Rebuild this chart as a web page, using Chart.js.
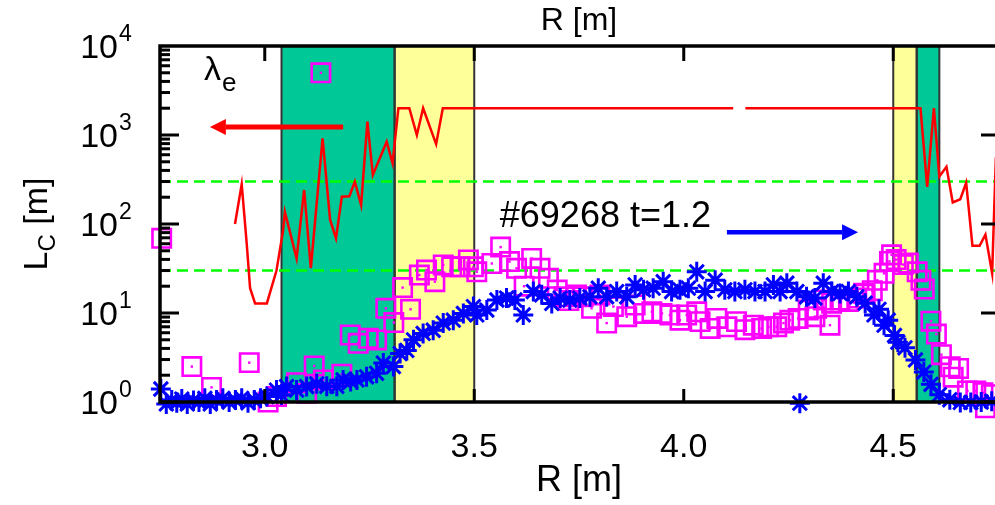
<!DOCTYPE html>
<html>
<head>
<meta charset="utf-8">
<script src="https://cdn.jsdelivr.net/npm/chart.js@4.4.0/dist/chart.umd.min.js"></script>
<style>
  html, body { margin: 0; padding: 0; overflow: hidden; background: #fff; }
  #wrap { width: 995px; height: 505px; overflow: hidden; position: relative; }
  #lc { position: absolute; left: 0; top: 0; }
</style>
</head>
<body>
<div id="wrap"><canvas id="lc" width="1005" height="505"></canvas></div>
<script>
// lambda_e (red line), null = gap in the line
const redR  = [2.929, 2.945, 2.957, 2.965, 2.977, 3.005, 3.028, 3.044, 3.048, 3.062, 3.076, 3.094, 3.11, 3.138, 3.156, 3.17,
               3.184, 3.202, 3.215, 3.23, 3.245, 3.258, 3.291, 3.305, 3.319, 3.345, 3.363, 3.378, 3.409, 3.425, 3.6, 3.8,
               4.0, 4.118, 4.13, 4.147, 4.3, 4.5, 4.565, 4.581, 4.597, 4.61, 4.627, 4.642, 4.66, 4.674, 4.689, 4.706,
               4.72, 4.736, 4.745];
const redLc = [100, 280, 60, 19, 12.8, 12.8, 30, 86, 137, 75, 41, 241, 32, 918, 111, 69,
               203, 205, 299, 163, 1413, 355, 841, 481, 2000, 2000, 1000, 2000, 790, 2000, 2000, 2000,
               2000, 2000, null, 2000, 2000, 2000, 2000, 261, 2000, 342, 440, 175, 190, 291, 57, 57,
               76, 28, 560];

// L_C squares (magenta)
const sqR  = [2.754, 2.826, 2.873, 2.963, 3.008, 3.028, 3.076, 3.1, 3.118, 3.134, 3.14, 3.184, 3.204, 3.223, 3.247, 3.267,
              3.289, 3.308, 3.329, 3.348, 3.369, 3.386, 3.406, 3.426, 3.446, 3.466, 3.486, 3.498, 3.506, 3.542, 3.563, 3.584,
              3.601, 3.619, 3.637, 3.657, 3.677, 3.698, 3.714, 3.726, 3.744, 3.76, 3.78, 3.8, 3.816, 3.832, 3.864, 3.884,
              3.904, 3.924, 3.948, 3.967, 3.991, 4.007, 4.031, 4.039, 4.063, 4.079, 4.103, 4.126, 4.146, 4.166, 4.186, 4.202,
              4.222, 4.238, 4.253, 4.273, 4.297, 4.313, 4.317, 4.333, 4.349, 4.353, 4.373, 4.393, 4.413, 4.429, 4.433, 4.45,
              4.462, 4.478, 4.491, 4.496, 4.507, 4.524, 4.536, 4.557, 4.566, 4.574, 4.59, 4.603, 4.615, 4.636, 4.643, 4.656,
              4.677, 4.697, 4.714, 4.72, 4.734];
const sqLc = [69, 2.5, 1.46, 2.77, 1.0, 1.15, 1.65, 1.25, 2.54, 5000, 1.77, 2.05, 5.66, 4.57, 5.2, 4.98,
              11.3, 7.8, 19.3, 11, 26.7, 30.4, 22.5, 34.7, 33, 33, 39.5, 33, 29, 36, 55, 37.8,
              31.8, 20, 41, 31.8, 24.5, 18.1, 15.2, 13.8, 15.9, 15.2, 11.3, 15.9, 7.7, 11.8, 9.1, 12.3,
              9.9, 10.3, 9.9, 9.5, 8.3, 9.5, 10.3, 8, 6.7, 8.7, 7.0, 8, 6.5, 7.3, 6.7, 7.0,
              7.0, 7.7, 8.3, 8.7, 10.8, 9.1, 11.3, 14, 7.3, 12.9, 14, 13.5, 14.7, 16.7, 16.3, 17.8,
              23.3, 27.9, 38, 45, 39.8, 35, 36.4, 29, 23.3, 18.6, 8.1, 5.8, 3.4, 2.49, 1.9, 2.38,
              1.33, 1.33, 1.27, 0.86, 1.21];

// L_C stars (blue)
const starR  = [2.752, 2.765, 2.778, 2.79, 2.802, 2.815, 2.83, 2.843, 2.857, 2.87, 2.885, 2.9, 2.915, 2.93, 2.945, 2.96,
                2.975, 2.99, 3.005, 3.028, 3.04, 3.052, 3.076, 3.1, 3.124, 3.148, 3.172, 3.187, 3.205, 3.22, 3.243, 3.267,
                3.283, 3.307, 3.323, 3.339, 3.355, 3.378, 3.402, 3.426, 3.45, 3.474, 3.498, 3.506, 3.53, 3.554, 3.577, 3.597,
                3.617, 3.641, 3.661, 3.685, 3.705, 3.728, 3.752, 3.776, 3.796, 3.816, 3.84, 3.864, 3.884, 3.904, 3.927, 3.951,
                3.971, 3.991, 4.011, 4.031, 4.051, 4.075, 4.098, 4.122, 4.146, 4.17, 4.194, 4.214, 4.23, 4.246, 4.27, 4.277,
                4.293, 4.313, 4.333, 4.353, 4.373, 4.393, 4.413, 4.433, 4.454, 4.466, 4.478, 4.488, 4.503, 4.511, 4.528, 4.553,
                4.573, 4.59, 4.61, 4.635, 4.66, 4.685, 4.71, 4.735];
const starLc = [1.4, 0.95, 1.05, 0.98, 1.08, 0.95, 1.04, 1.0, 1.1, 0.95, 1.05, 1.1, 1.0, 1.05, 1.1, 0.98,
                1.05, 1.1, 1.15, 1.36, 1.2, 1.49, 1.36, 1.49, 1.6, 1.5, 1.5, 1.77, 1.7, 1.77, 1.92, 2.1,
                2.74, 2.5, 3.5, 3.8, 5.0, 5.9, 6.4, 7.7, 8.3, 9.9, 11.8, 9.5, 10.8, 14, 14.7, 14,
                9.5, 17.4, 16, 12.8, 14.7, 14, 14.7, 15.2, 19, 15.2, 17.4, 15.2, 20.7, 18.2, 19, 22.5,
                17.4, 18.2, 19, 29, 17.4, 23.4, 18.2, 17.4, 18.2, 17.4, 17.4, 20.7, 17.4, 21.6, 17.4, 0.97,
                15.2, 14.7, 21.6, 17.4, 16.6, 17.4, 15.2, 12.9, 9.5, 11, 7.3, 8.3, 5.6, 4.7, 4.06, 2.97,
                2.17, 1.58, 1.21, 1.06, 0.99, 0.99, 1.0, 1.02];

const xTicks = [3.0, 3.5, 4.0, 4.5];
const yExps = [0, 1, 2, 3, 4];
const greenBands  = [[3.04, 3.31], [4.556, 4.61]];
const yellowBands = [[3.31, 3.5], [4.5, 4.556]];
const dashLevels = [300, 30];
const xMin = 2.75, xMax = 4.75;

const FONT = "'Liberation Sans', Arial, sans-serif";

function pts(xs, ys) {
  return xs.map((x, i) => ({ x: x, y: ys[i] }));
}

// shaded bands, frame, inward ticks, y labels and the notes
const decor = {
  id: 'decor',
  beforeDatasetsDraw(chart) {
    const { ctx, chartArea: a, scales: { x } } = chart;
    ctx.save();
    ctx.fillStyle = '#ffff99';
    yellowBands.forEach(b => {
      const l = x.getPixelForValue(b[0]), r = x.getPixelForValue(b[1]);
      ctx.fillRect(l, a.top, r - l, a.height);
    });
    ctx.fillStyle = '#00c896';
    greenBands.forEach(b => {
      const l = x.getPixelForValue(b[0]), r = x.getPixelForValue(b[1]);
      ctx.fillRect(l, a.top, r - l, a.height);
    });
    ctx.strokeStyle = '#333';
    ctx.lineWidth = 2;
    greenBands.concat(yellowBands).forEach(b => {
      b.forEach(v => {
        const p = x.getPixelForValue(v);
        ctx.beginPath(); ctx.moveTo(p, a.top); ctx.lineTo(p, a.bottom); ctx.stroke();
      });
    });
    ctx.restore();
  },
  afterDatasetsDraw(chart) {
    const { ctx, chartArea: a, scales: { x, y } } = chart;
    ctx.save();
    ctx.strokeStyle = '#000';
    ctx.lineWidth = 3;
    // log ticks, left major + minor, right major only
    for (let d = 0; d < 4; d++) {
      for (let k = 1; k <= 9; k++) {
        const p = y.getPixelForValue(k * Math.pow(10, d));
        const len = k === 1 ? 19 : 10;
        ctx.beginPath(); ctx.moveTo(a.left, p); ctx.lineTo(a.left + len, p); ctx.stroke();
        if (k === 1) {
          ctx.beginPath(); ctx.moveTo(a.right, p); ctx.lineTo(a.right - 17, p); ctx.stroke();
        }
      }
    }
    xTicks.forEach(t => {
      const p = x.getPixelForValue(t);
      ctx.beginPath(); ctx.moveTo(p, a.top); ctx.lineTo(p, a.top + 15); ctx.stroke();
      ctx.beginPath(); ctx.moveTo(p, a.bottom); ctx.lineTo(p, a.bottom - 13); ctx.stroke();
    });
    ctx.lineWidth = 3.5;
    ctx.strokeRect(a.left, a.top, a.right - a.left, a.bottom - a.top);
    ctx.restore();
  },
  afterDraw(chart) {
    const { ctx, chartArea: a, scales: { x, y } } = chart;
    ctx.save();
    ctx.fillStyle = '#000';
    // y tick labels 10^n
    yExps.forEach(e => {
      const p = y.getPixelForValue(Math.pow(10, e));
      ctx.font = '34px ' + FONT;
      ctx.textAlign = 'right';
      ctx.textBaseline = 'middle';
      ctx.fillText('10', 118, p + 3);
      ctx.font = '23px ' + FONT;
      ctx.textAlign = 'left';
      ctx.textBaseline = 'alphabetic';
      ctx.fillText(String(e), 119, p - 5);
    });
    // y title L_C [m]
    ctx.save();
    ctx.translate(35, (a.top + a.bottom) / 2);
    ctx.rotate(-Math.PI / 2);
    ctx.textBaseline = 'alphabetic';
    ctx.textAlign = 'left';
    ctx.font = '34px ' + FONT;
    const wL = ctx.measureText('L').width, wM = ctx.measureText(' [m]').width;
    ctx.font = '24px ' + FONT;
    const wC = ctx.measureText('C').width;
    let sx = -(wL + wC + wM) / 2;
    ctx.font = '34px ' + FONT;
    ctx.fillText('L', sx, 12);
    ctx.font = '24px ' + FONT;
    ctx.fillText('C', sx + wL, 20);
    ctx.font = '34px ' + FONT;
    ctx.fillText(' [m]', sx + wL + wC, 12);
    ctx.restore();

    // lambda_e label
    ctx.textAlign = 'left';
    ctx.textBaseline = 'alphabetic';
    const lx = x.getPixelForValue(2.855), ly = y.getPixelForValue(4150);
    ctx.font = '34px ' + FONT;
    ctx.fillText('λ', lx, ly);
    const wl = ctx.measureText('λ').width;
    ctx.font = '26px ' + FONT;
    ctx.fillText('e', lx + wl + 1, ly + 11);

    // shot label
    ctx.font = '36px ' + FONT;
    ctx.fillText('#69268 t=1.2', x.getPixelForValue(3.561), y.getPixelForValue(92.5));

    // arrows
    function arrow(x0, x1, yv, color, w) {
      const px0 = x.getPixelForValue(x0), px1 = x.getPixelForValue(x1), py = y.getPixelForValue(yv);
      const dir = px1 > px0 ? 1 : -1;
      const base = px1 - dir * 16;
      ctx.strokeStyle = color;
      ctx.fillStyle = color;
      ctx.lineWidth = w;
      ctx.beginPath(); ctx.moveTo(px0, py); ctx.lineTo(base, py); ctx.stroke();
      ctx.beginPath(); ctx.moveTo(px1, py); ctx.lineTo(base, py - 8); ctx.lineTo(base, py + 8); ctx.closePath(); ctx.fill();
    }
    arrow(3.187, 2.869, 1230, '#ff0000', 5);
    arrow(4.103, 4.416, 81, '#0000ff', 4.5);
    ctx.restore();
  }
};

const datasets = [];
dashLevels.forEach(v => {
  datasets.push({
    data: [{ x: xMin, y: v }, { x: xMax, y: v }],
    showLine: true, borderColor: '#00ff00', borderWidth: 2.5, borderDash: [11, 6],
    pointRadius: 0, order: 5
  });
});
datasets.push({
  label: 'lambda_e',
  data: pts(redR, redLc),
  showLine: true, spanGaps: false, borderColor: '#ff0000', borderWidth: 2.5,
  pointRadius: 0, tension: 0, order: 4
});
datasets.push({
  label: 'Lc squares',
  data: pts(sqR, sqLc),
  pointStyle: 'rect', pointRadius: 13, borderColor: '#ff00ff', backgroundColor: 'rgba(0,0,0,0)',
  borderWidth: 2.6, clip: false, order: 3
});
datasets.push({
  label: 'Lc square dots',
  data: pts(sqR, sqLc),
  pointStyle: 'rect', pointRadius: 1.7, borderWidth: 0, backgroundColor: '#ff00ff',
  clip: false, order: 2
});
datasets.push({
  label: 'Lc stars',
  data: pts(starR, starLc),
  pointStyle: 'star', pointRadius: 10, borderColor: '#0000ff', borderWidth: 3,
  clip: false, order: 1
});

// keep the plot box fixed: 160..998 wide, 46..402 high
function fixX(h) {
  return s => { s.height = h; s.paddingLeft = 0; s.paddingRight = 0; };
}

new Chart('lc', {
  type: 'scatter',
  data: { datasets: datasets },
  options: {
    responsive: false,
    animation: false,
    devicePixelRatio: 1,
    // big markers would otherwise push the plot box in
    layout: { autoPadding: false, padding: { left: 0, right: 7, top: 0, bottom: 0 } },
    plugins: { legend: { display: false }, tooltip: { enabled: false } },
    scales: {
      x: {
        type: 'linear', position: 'bottom', min: xMin, max: xMax,
        grid: { display: false, drawTicks: false }, border: { display: false },
        afterBuildTicks: s => { s.ticks = xTicks.map(v => ({ value: v })); },
        ticks: {
          color: '#000', padding: 25,
          font: { family: FONT, size: 34 },
          callback: v => v.toFixed(1)
        },
        title: { display: true, text: 'R [m]', color: '#000', font: { family: FONT, size: 36 }, padding: { bottom: 2 } },
        afterFit: fixX(103)
      },
      x2: {
        type: 'linear', position: 'top', min: xMin, max: xMax,
        grid: { display: false, drawTicks: false }, border: { display: false },
        afterBuildTicks: s => { s.ticks = xTicks.map(v => ({ value: v })); },
        ticks: { display: false },
        title: { display: true, text: 'R [m]', color: '#000', font: { family: FONT, size: 32 }, padding: { top: 2 } },
        afterFit: fixX(46)
      },
      y: {
        type: 'logarithmic', position: 'left', min: 1, max: 10000,
        grid: { display: false, drawTicks: false }, border: { display: false },
        ticks: { display: false },
        afterFit: s => { s.width = 160; }
      }
    }
  },
  plugins: [decor]
});
</script>
</body>
</html>
